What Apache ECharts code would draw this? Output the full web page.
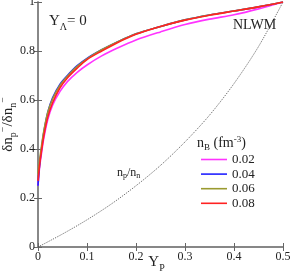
<!DOCTYPE html>
<html><head><meta charset="utf-8">
<script src="https://cdn.jsdelivr.net/npm/echarts@6/dist/echarts.min.js"></script>
<style>html,body{margin:0;padding:0;background:#fff}#c{width:291px;height:274px}</style>
</head><body><div id="c"></div>
<script>
var yp = [0, 0.003, 0.007, 0.012, 0.02, 0.03, 0.045, 0.06, 0.08, 0.1, 0.13, 0.16, 0.2, 0.25, 0.3, 0.35, 0.4, 0.45, 0.5];
var nb002 = [0.25, 0.32, 0.38, 0.445, 0.52, 0.58, 0.635, 0.675, 0.713, 0.743, 0.78, 0.81, 0.845, 0.878, 0.908, 0.93, 0.948, 0.972, 1.0];
var nb004 = [0.25, 0.33, 0.40, 0.47, 0.55, 0.61, 0.665, 0.70, 0.74, 0.77, 0.805, 0.835, 0.87, 0.90, 0.927, 0.947, 0.963, 0.98, 1.0];
var nb006 = [0.30, 0.35, 0.41, 0.475, 0.55, 0.605, 0.66, 0.697, 0.737, 0.768, 0.805, 0.835, 0.87, 0.90, 0.927, 0.947, 0.963, 0.98, 1.0];
var nb008 = [0.27, 0.33, 0.39, 0.455, 0.53, 0.59, 0.65, 0.69, 0.73, 0.765, 0.80, 0.832, 0.868, 0.90, 0.926, 0.946, 0.963, 0.98, 1.0];
var ypRatio = [0, 0.05, 0.1, 0.15, 0.2, 0.25, 0.3, 0.35, 0.4, 0.45, 0.5];
var npnn = [0, 0.053, 0.111, 0.176, 0.25, 0.333, 0.429, 0.538, 0.667, 0.818, 1.0];
var legendNames = ['0.02', '0.04', '0.06', '0.08'];
var colors = ['#ff33ff', '#2222ff', '#9a9a30', '#ff2222'];

function pairs(xs, ys){ return xs.map(function(x,i){return [x, ys[i]];}); }
var FONT = 'Liberation Serif';
var chart = echarts.init(document.getElementById('c'), null, {renderer:'canvas'});
var axisLine = {show:true, lineStyle:{color:'#808080', width:1.5}};
var tick = {show:true, inside:true, length:4, lineStyle:{color:'#666', width:1}};
var sets = [nb002, nb004, nb006, nb008];
var series = sets.map(function(s, i){
  return {name: legendNames[i], type:'line', data: pairs(yp, s), symbol:'none', smooth:0.3,
    lineStyle:{color: colors[i], width:1.6}, itemStyle:{color: colors[i]}, z: 3 + i};
});
series.unshift({name:'npnn', type:'line', data: pairs(ypRatio, npnn), symbol:'none', smooth:0.3,
  lineStyle:{color:'#444', width:0.8, type:[1.2,1.2]}, z:2});

chart.setOption({
  animation:false,
  grid:{left:38, right:8, top:2, bottom:27, containLabel:false, outerBoundsMode:'none'},
  xAxis:[{type:'value', min:0, max:0.5, interval:0.1, position:'bottom',
    axisLine:axisLine, axisTick:tick, splitLine:{show:false},
    axisLabel:{fontFamily:FONT, fontSize:12, color:'#222', margin:4},
    name:'{m|Y}{s|P}', nameLocation:'middle', nameGap:8, nameMoveOverlap:false,
    nameTextStyle:{padding:[0,8,0,0], rich:{m:{fontFamily:FONT, fontSize:15, color:'#222', verticalAlign:'top', lineHeight:18}, s:{fontFamily:FONT, fontSize:10, color:'#222', verticalAlign:'bottom', lineHeight:10}}}},
   {type:'value', min:0, max:0.5, interval:0.1, position:'top',
    axisLine:axisLine, axisTick:tick, axisLabel:{show:false}, splitLine:{show:false}}],
  yAxis:[{type:'value', min:0, max:1, interval:0.2, position:'left',
    axisLine:axisLine, axisTick:tick, splitLine:{show:false},
    axisLabel:{fontFamily:FONT, fontSize:12, color:'#222', margin:3},
    name:'{m|δn}{s|p}{u|−}{m|/δn}{s|n}{u|−}', nameLocation:'middle', nameGap:20, nameRotate:90, nameMoveOverlap:false,
    nameTextStyle:{rich:{
      m:{fontFamily:FONT, fontSize:15, color:'#222', lineHeight:20, verticalAlign:'middle'},
      s:{fontFamily:FONT, fontSize:10, color:'#222', lineHeight:10, verticalAlign:'bottom'},
      u:{fontFamily:FONT, fontSize:10, color:'#222', lineHeight:10, verticalAlign:'top'}}}},
   {type:'value', min:0, max:1, interval:0.2, position:'right',
    axisLine:axisLine, axisTick:tick, axisLabel:{show:false}, splitLine:{show:false}}],
  legend:{data:legendNames, orient:'vertical', left:196, top:148, itemWidth:26, itemHeight:13, itemGap:1.6,
    icon:'path://M0,0L26,0L26,1.6L0,1.6Z',
    textStyle:{fontFamily:FONT, fontSize:13, color:'#222'}},
  graphic:[
    {type:'text', left:49, top:14, style:{text:'{m|Y}{s|Λ}{m|= 0}', rich:{
      m:{fontFamily:FONT, fontSize:15, fill:'#222', lineHeight:18, verticalAlign:'top'},
      s:{fontFamily:FONT, fontSize:10, fill:'#222', lineHeight:10, verticalAlign:'bottom'}}}},
    {type:'text', left:233, top:18, style:{text:'NLWM', fontFamily:FONT, fontSize:14, fill:'#222'}},
    {type:'text', left:197, top:135, style:{text:'{m|n}{s|B}{m| (fm}{u|-3}{m|)}', rich:{
      m:{fontFamily:FONT, fontSize:14, fill:'#222', lineHeight:17, verticalAlign:'middle'},
      s:{fontFamily:FONT, fontSize:9, fill:'#222', lineHeight:9, verticalAlign:'bottom'},
      u:{fontFamily:FONT, fontSize:9, fill:'#222', lineHeight:9, verticalAlign:'top'}}}},
    {type:'text', left:117, top:167, style:{text:'{m|n}{s|p}{m|/n}{s|n}', rich:{
      m:{fontFamily:FONT, fontSize:12, fill:'#222', lineHeight:14, verticalAlign:'middle'},
      s:{fontFamily:FONT, fontSize:8, fill:'#222', lineHeight:8, verticalAlign:'bottom'}}}}
  ],
  series: series
});
</script></body></html>
